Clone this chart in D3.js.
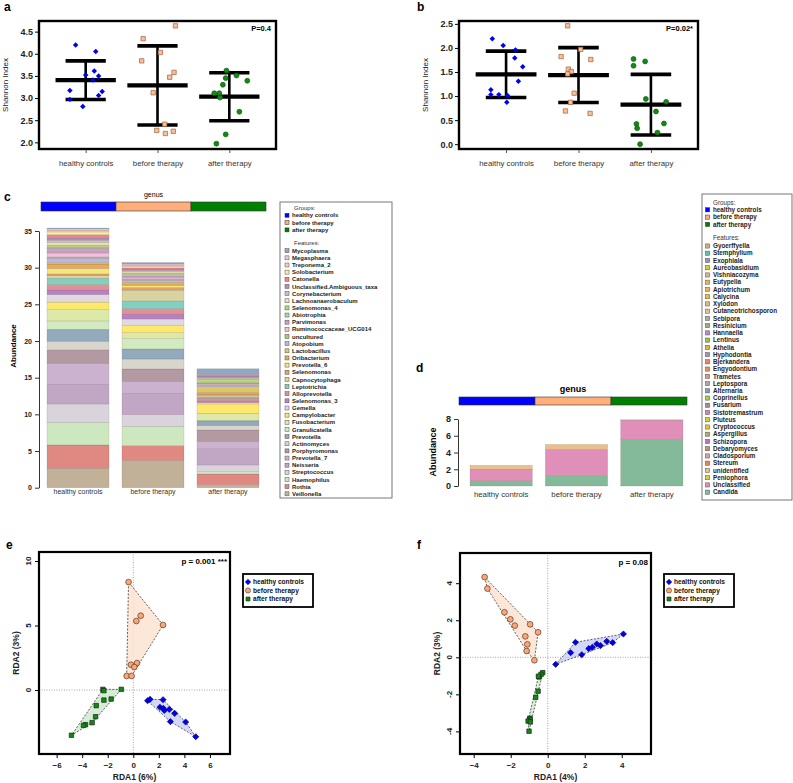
<!DOCTYPE html>
<html>
<head>
<meta charset="utf-8">
<script src="https://cdn.jsdelivr.net/npm/d3@7"></script>
<style>
  body { margin: 0; background: #fff; }
  text { font-family: "Liberation Sans", Arial, sans-serif; }
</style>
</head>
<body>
<svg id="fig" width="793" height="783"></svg>
<script>
// ---------- data ----------
const groups = ['healthy controls', 'before therapy', 'after therapy'];
const groupColors = ['#0000ff', '#ffae7c', '#008000'];

// a: bacterial Shannon index
const shanBacHealthy = [4.20, 4.05, 3.52, 3.61, 3.50, 3.41, 3.17, 3.15, 3.06, 2.97, 2.81];
const shanBacBefore = [4.63, 4.34, 4.03, 3.84, 3.58, 3.47, 3.12, 2.41, 2.27, 2.20, 2.25];
const shanBacAfter = [3.62, 3.51, 3.45, 3.39, 3.30, 3.11, 3.11, 3.01, 2.69, 2.18, 1.97];
const jitBacHealthy = [-0.14, 0.14, 0, 0.12, 0.18, 0.10, -0.22, 0.23, 0.18, -0.22, -0.04];
const jitBacBefore = [0.25, -0.2, 0.04, -0.22, 0.23, 0.17, -0.06, 0.10, -0.01, 0.11, 0.22];
const jitBacAfter = [-0.04, 0.10, -0.05, 0.25, -0.09, -0.21, -0.14, -0.13, 0.14, -0.05, -0.18];
const shanBacTicks = [2.0, 2.5, 3.0, 3.5, 4.0, 4.5];

// b: fungal Shannon index
const shanFunHealthy = [2.19, 2.05, 1.96, 1.79, 1.61, 1.31, 1.13, 1.03, 1.03, 1.01, 0.87];
const shanFunBefore = [2.46, 1.82, 1.97, 1.76, 1.56, 1.51, 1.46, 1.06, 0.87, 0.69, 0.64];
const shanFunAfter = [1.77, 1.63, 1.72, 0.94, 0.88, 0.68, 0.42, 0.33, 0.43, 0.24, 0.0];
const jitFunHealthy = [-0.19, -0.04, 0.13, 0.12, 0.23, 0.17, -0.21, -0.21, -0.10, 0.02, 0.01];
const jitFunBefore = [-0.15, -0.24, 0.03, 0.17, -0.14, -0.10, -0.15, -0.06, -0.11, -0.18, 0.16];
const jitFunAfter = [-0.24, -0.24, -0.08, -0.07, 0.21, 0.07, -0.20, -0.19, 0.18, 0.09, -0.15];
const shanFunTicks = [0.0, 0.5, 1.0, 1.5, 2.0, 2.5];

// c: bacterial genus abundance (legend order, top of stack first)
const bacFeatures = ['Mycoplasma', 'Megasphaera', 'Treponema_2', 'Solobacterium', 'Catonella',
  'Unclassified.Ambiguous_taxa', 'Corynebacterium', 'Lachnoanaerobaculum', 'Selenomonas_4', 'Abiotrophia',
  'Parvimonas', 'Ruminococcaceae_UCG014', 'uncultured', 'Atopobium', 'Lactobacillus', 'Oribacterium',
  'Prevotella_6', 'Selenomonas', 'Capnocytophaga', 'Leptotrichia', 'Alloprevotella', 'Selenomonas_3',
  'Gemella', 'Campylobacter', 'Fusobacterium', 'Granulicatella', 'Prevotella', 'Actinomyces',
  'Porphyromonas', 'Prevotella_7', 'Neisseria', 'Streptococcus', 'Haemophilus', 'Rothia', 'Veillonella'];
const bacColors = ['#8ea8c6', '#e9c9da', '#f2cbc2', '#f6eea2', '#ef8480', '#b08fc2', '#c9c2ba', '#e9e1bb',
  '#b9d872', '#a9d8ab', '#c9a1c3', '#f1c2d9', '#a9c972', '#b9b9da', '#d9c865', '#e8aa55', '#f1e77f',
  '#e2a262', '#d8d4a2', '#82d0c2', '#e19193', '#b881c1', '#e1d9e1', '#fde86e', '#dde9a9', '#d1eac1',
  '#92aabb', '#d8d5cd', '#b299a2', '#cbb3cf', '#c1a6c6', '#d9d4dc', '#cde8c1', '#e08882', '#c1b199'];
const bacHealthy = [0.1, 0.2, 0.22, 0.38, 0.44, 0.31, 0.35, 0.33, 0.27, 0.14, 0.66, 0.53, 0.17, 0.6, 0.2,
  0.62, 0.73, 0.25, 0.34, 0.86, 0.73, 0.64, 1.03, 1.0, 1.56, 1.14, 1.63, 1.18, 1.82, 2.87, 2.68, 2.5,
  3.09, 3.18, 2.65];
const bacBefore = [0.2, 0.17, 0.18, 0.18, 0.17, 0.2, 0.17, 0.18, 0.19, 0.18, 0.23, 0.18, 0.17, 0.3, 0.2,
  0.24, 0.26, 0.37, 1.46, 1.05, 0.76, 0.66, 0.9, 0.95, 0.82, 1.41, 1.37, 1.36, 1.73, 1.59, 2.91, 1.59,
  2.64, 2.0, 3.73];
const bacAfter = [0.73, 0.05, 0.05, 0.05, 0.1, 0.23, 0.1, 0.1, 0.45, 0.1, 0.1, 0.1, 0.17, 0.1, 0.8,
  0.1, 0.1, 0.18, 0.23, 0.17, 0.33, 0.27, 0.18, 1.27, 0.95, 0.1, 0.64, 0.59, 1.59, 0.96, 2.22, 0.92,
  0.31, 1.46, 0.41];
const bacTicks = [0, 5, 10, 15, 20, 25, 30, 35];

// d: fungal genus abundance
const funFeatures = ['Gyoerffyella', 'Stemphylium', 'Exophiala', 'Aureobasidium', 'Vishniacozyma', 'Eutypella',
  'Apiotrichum', 'Calycina', 'Xylodon', 'Cutaneotrichosporon', 'Sebipora', 'Resinicium', 'Hannaella',
  'Lentinus', 'Athelia', 'Hyphodontia', 'Bjerkandera', 'Engyodontium', 'Trametes', 'Leptospora',
  'Alternaria', 'Coprinellus', 'Fusarium', 'Sistotremastrum', 'Pluteus', 'Cryptococcus', 'Aspergillus',
  'Schizopora', 'Debaryomyces', 'Cladosporium', 'Stereum', 'unidentified', 'Peniophora', 'Unclassified',
  'Candida'];
const funColors = ['#c9b089', '#5fc2a8', '#9391c9', '#d9c933', '#c9b999', '#e1b951', '#e9b263', '#e9c322',
  '#d9b98a', '#e1c292', '#a9a9a9', '#a1a982', '#b98ac9', '#99c243', '#e1b243', '#9999b9', '#f08262',
  '#e19263', '#d19a8a', '#b1a9a1', '#8199c9', '#a9c952', '#a18a92', '#d182c1', '#c9d143', '#e9c233',
  '#a9b163', '#c172c1', '#b99272', '#d1a2a2', '#e18262', '#e8c08c', '#d1d143', '#e08fb8', '#84b999'];
const funHealthy = [0, 0, 0, 0, 0, 0, 0, 0, 0, 0, 0, 0, 0, 0, 0, 0, 0, 0, 0, 0, 0, 0, 0, 0, 0, 0, 0, 0, 0,
  0, 0, 0.46, 0, 1.37, 0.63];
const funBefore = [0, 0, 0, 0, 0, 0, 0, 0, 0, 0, 0, 0, 0, 0, 0, 0, 0, 0, 0, 0, 0, 0, 0, 0, 0, 0, 0, 0, 0,
  0, 0, 0.59, 0, 3.14, 1.23];
const funAfter = [0, 0, 0, 0, 0, 0, 0, 0, 0, 0, 0, 0, 0, 0, 0, 0, 0, 0, 0, 0, 0, 0, 0, 0, 0, 0, 0, 0, 0,
  0, 0, 0.05, 0, 2.30, 5.56];
const funTicks = [0, 2, 4, 6, 8];

// e: RDA bacteria
const rdaBacHealthy = [[1.12, -0.83], [1.31, -0.72], [2.33, -0.75], [2.09, -1.34], [2.35, -1.42], [2.43, -1.58],
  [2.82, -1.50], [3.24, -1.81], [2.90, -2.45], [4.10, -2.48], [4.89, -3.62]];
const rdaBacBefore = [[-0.37, 8.37], [0.58, 5.76], [0.24, 5.35], [2.33, 5.04], [0.29, 2.09], [-0.18, 1.96],
  [0.08, 1.78], [-0.52, 1.09], [-0.13, 1.09]];
const rdaBacAfter = [[-2.38, 0.05], [-2.30, -0.05], [-0.94, 0.05], [-2.30, -0.78], [-1.73, -0.70], [-2.90, -1.21],
  [-2.95, -2.07], [-3.22, -2.53], [-3.74, -2.69], [-3.90, -2.74], [-4.84, -3.51]];

// f: RDA fungi
const rdaFunHealthy = [[0.43, -0.38], [1.24, 0.25], [1.50, 0.81], [1.84, 0.14], [2.22, 0.47], [2.41, 0.54],
  [2.65, 0.72], [2.85, 0.63], [3.19, 0.86], [3.51, 0.79], [4.09, 1.26]];
const rdaFunBefore = [[-3.41, 4.33], [-3.26, 3.71], [-2.34, 2.43], [-2.02, 2.05], [-1.78, 1.71], [-0.95, 1.78],
  [-0.52, 1.35], [-1.21, 1.13], [-1.10, 0.70], [-1.14, 0.34], [-0.72, -0.16]];
const rdaFunAfter = [[-0.27, -0.83], [-0.36, -0.92], [-0.47, -1.06], [-0.50, -1.02], [-0.52, -1.83], [-0.65, -2.16],
  [-0.97, -3.29], [-0.95, -3.35], [-1.06, -3.44], [-0.94, -3.49], [-1.01, -3.99]];

// ---------- drawing ----------
const svg = d3.select('#fig');
const diamond = d3.symbolDiamond2 || d3.symbolDiamond;
// Shannon plots: diamond / square / circle; RDA plots: diamond / circle / square
const dotShapes = [diamond, d3.symbolSquare, d3.symbolCircle];
const rdaShapes = [diamond, d3.symbolCircle, d3.symbolSquare];

function panelLabel(t, x, y) {
  svg.append('text').attr('x', x).attr('y', y).text(t)
    .style('font-size', '12px').style('font-weight', 'bold');
}

function shannonPanel(o) {
  const g = svg.append('g');
  const x = d3.scalePoint().domain(groups).range([o.left, o.right]).padding(0.65);
  const y = d3.scaleLinear().domain(o.yDomain).range([o.bottom, o.top]);
  const step = x.step();
  const fills = ['#0000f0', '#f9bf9c', '#138a13'];
  const strokes = ['none', '#a0603a', '#0a5a0a'];
  const sizes = [19, 19, 19];

  o.series.forEach((vals, i) => {
    const cx = x(groups[i]);
    const m = d3.mean(vals), sd = d3.deviation(vals);
    g.append('line').attr('x1', cx).attr('x2', cx).attr('y1', y(m - sd)).attr('y2', y(m + sd))
      .attr('stroke', '#000').attr('stroke-width', 2.6);
    [m - sd, m + sd].forEach(v => {
      g.append('line').attr('x1', cx - 0.28 * step).attr('x2', cx + 0.28 * step)
        .attr('y1', y(v)).attr('y2', y(v)).attr('stroke', '#000').attr('stroke-width', 3.6);
    });
    g.append('line').attr('x1', cx - 0.42 * step).attr('x2', cx + 0.42 * step)
      .attr('y1', y(m)).attr('y2', y(m)).attr('stroke', '#000').attr('stroke-width', 4.2);

    g.selectAll('.pt' + i).data(vals).enter().append('path')
      .attr('d', d3.symbol().type(dotShapes[i]).size(sizes[i]))
      .attr('transform', (d, j) => `translate(${cx + o.jitter[i][j] * step},${y(d)})`)
      .attr('fill', fills[i]).attr('stroke', strokes[i]).attr('stroke-width', 0.7);
  });

  g.append('rect').attr('x', o.left).attr('y', o.top)
    .attr('width', o.right - o.left).attr('height', o.bottom - o.top)
    .attr('fill', 'none').attr('stroke', '#000').attr('stroke-width', 2.4);

  const ya = g.append('g').attr('transform', `translate(${o.left - 1},0)`)
    .call(d3.axisLeft(y).tickValues(o.ticks).tickFormat(d3.format('.1f')).tickSize(3).tickPadding(2));
  ya.select('.domain').remove();
  ya.selectAll('text').style('font-size', '9px').style('font-weight', 'bold').attr('fill', '#222');

  const xa = g.append('g').attr('transform', `translate(0,${o.bottom + 1})`)
    .call(d3.axisBottom(x).tickSize(3).tickPadding(7));
  xa.select('.domain').remove();
  xa.selectAll('line').attr('stroke', '#555');
  xa.selectAll('text').style('font-size', '7.8px').attr('fill', '#333');

  g.append('text').attr('transform', `translate(${o.titleX},${(o.top + o.bottom) / 2}) rotate(-90)`)
    .attr('text-anchor', 'middle').style('font-size', '8px').attr('fill', '#222').text('Shannon Index');
  g.append('text').attr('x', o.right - 5).attr('y', o.top + 10).attr('text-anchor', 'end')
    .style('font-size', '7.5px').style('font-weight', 'bold').text(o.pText);
}

function stackPanel(o) {
  const g = svg.append('g');
  const keys = o.features.slice().reverse();
  const rows = groups.map((grp, i) => {
    const r = { group: grp };
    o.features.forEach((f, k) => { r[f] = o.values[i][k]; });
    return r;
  });
  const color = d3.scaleOrdinal().domain(o.features).range(o.colors);
  const stacked = d3.stack().keys(keys)(rows);

  const xBar = d3.scaleBand().domain(groups).range(o.barRange).paddingInner(0.173).paddingOuter(0.087);
  const xTop = d3.scaleBand().domain(groups).range(o.headRange);
  const y = d3.scaleLinear().domain(o.yDomain).range([o.bottom, o.top]);

  // group colour strip and title
  g.selectAll('.head').data(groups).enter().append('rect')
    .attr('x', d => xTop(d)).attr('y', o.headY).attr('width', xTop.bandwidth()).attr('height', o.headH)
    .attr('fill', (d, i) => groupColors[i]).attr('stroke', '#333').attr('stroke-width', 0.6);
  g.append('text').attr('x', (o.headRange[0] + o.headRange[1]) / 2).attr('y', o.headY - 5)
    .attr('text-anchor', 'middle').style('font-size', o.genusSize).style('font-weight', o.genusWeight)
    .text('genus');

  g.selectAll('.layer').data(stacked).enter().append('g')
    .attr('fill', d => color(d.key))
    .selectAll('rect').data(d => d).enter().append('rect')
    .filter(d => d[1] - d[0] > 0)
    .attr('x', d => xBar(d.data.group)).attr('width', xBar.bandwidth())
    .attr('y', d => y(d[1])).attr('height', d => y(d[0]) - y(d[1]))
    .attr('stroke', 'rgba(80,60,60,0.25)').attr('stroke-width', 0.5);

  const ya = g.append('g').attr('transform', `translate(${o.axisX},0)`)
    .call(d3.axisLeft(y).tickValues(o.ticks).tickSize(4).tickSizeOuter(0).tickPadding(3));
  ya.select('.domain').attr('stroke', '#333');
  ya.selectAll('line').attr('stroke', '#333');
  ya.selectAll('text').style('font-size', o.tickSize).style('font-weight', 'bold').attr('fill', '#222');

  g.selectAll('.xl').data(groups).enter().append('text')
    .attr('x', d => xBar(d) + xBar.bandwidth() / 2).attr('y', o.labelY)
    .attr('text-anchor', 'middle').style('font-size', o.labelSize).attr('fill', '#333').text(d => d);

  g.append('text').attr('transform', `translate(${o.titleX},${o.titleY}) rotate(-90)`)
    .attr('text-anchor', 'middle').style('font-size', o.titleSize).style('font-weight', 'bold')
    .text('Abundance');

  // legend
  const L = o.legend;
  const lg = g.append('g');
  lg.append('rect').attr('x', L.x).attr('y', L.y).attr('width', L.w).attr('height', L.h)
    .attr('fill', '#fff').attr('stroke', '#555').attr('stroke-width', 0.8);
  const fs = L.font;
  lg.append('text').attr('x', L.titleX).attr('y', L.groupsY + fs * 0.35).style('font-size', fs + 'px')
    .attr('fill', '#333').text('Groups:');
  groups.forEach((grp, i) => {
    const cy = L.groupsY + L.step * (i + 1);
    lg.append('rect').attr('x', L.swX).attr('y', cy - L.sw / 2).attr('width', L.sw).attr('height', L.sw)
      .attr('fill', groupColors[i]).attr('stroke', '#333').attr('stroke-width', 0.5);
    lg.append('text').attr('x', L.textX).attr('y', cy + fs * 0.35).style('font-size', fs + 'px')
      .style('font-weight', 'bold').attr('fill', '#222').text(grp);
  });
  lg.append('text').attr('x', L.titleX).attr('y', L.featY + fs * 0.35).style('font-size', fs + 'px')
    .attr('fill', '#333').text('Features:');
  o.features.forEach((f, k) => {
    const cy = L.featStart + L.fstep * k;
    lg.append('rect').attr('x', L.swX).attr('y', cy - L.sw / 2).attr('width', L.sw).attr('height', L.sw)
      .attr('fill', color(f)).attr('stroke', '#555').attr('stroke-width', 0.5);
    lg.append('text').attr('x', L.textX).attr('y', cy + fs * 0.35).style('font-size', fs + 'px')
      .style('font-weight', 'bold').attr('fill', '#222').text(f);
  });
}

function rdaPanel(o) {
  const g = svg.append('g');
  const x = d3.scaleLinear().domain(o.xDomain).range([o.left, o.right]);
  const y = d3.scaleLinear().domain(o.yDomain).range([o.bottom, o.top]);
  const hullFill = ['#ccd0f6', '#fde3d1', '#cfe9cf'];
  const fills = ['#0000ee', '#f8a877', '#128a12'];
  const strokes = ['#00007a', '#5a3a2a', '#1a2a1a'];
  const sizes = [24, 26, 20];

  g.append('line').attr('x1', x(0)).attr('x2', x(0)).attr('y1', o.top).attr('y2', o.bottom)
    .attr('stroke', '#666').attr('stroke-width', 0.6).attr('stroke-dasharray', '1,1.5');
  g.append('line').attr('x1', o.left).attr('x2', o.right).attr('y1', y(0)).attr('y2', y(0))
    .attr('stroke', '#666').attr('stroke-width', 0.6).attr('stroke-dasharray', '1,1.5');

  o.series.forEach((pts, i) => {
    const hull = d3.polygonHull(pts.map(p => [x(p[0]), y(p[1])]));
    g.append('path').attr('d', 'M' + hull.join('L') + 'Z')
      .attr('fill', hullFill[i]).attr('fill-opacity', 0.85)
      .attr('stroke', '#222').attr('stroke-width', 0.7).attr('stroke-dasharray', '2,1.5');
  });
  o.series.forEach((pts, i) => {
    g.selectAll('.p' + i).data(pts).enter().append('path')
      .attr('d', d3.symbol().type(rdaShapes[i]).size(sizes[i]))
      .attr('transform', d => `translate(${x(d[0])},${y(d[1])})`)
      .attr('fill', fills[i]).attr('stroke', strokes[i]).attr('stroke-width', 0.7);
  });

  g.append('rect').attr('x', o.left).attr('y', o.top)
    .attr('width', o.right - o.left).attr('height', o.bottom - o.top)
    .attr('fill', 'none').attr('stroke', '#000').attr('stroke-width', 2.2);

  const xa = g.append('g').attr('transform', `translate(0,${o.bottom + 1})`)
    .call(d3.axisBottom(x).tickValues(o.xTicks).tickSize(3).tickPadding(4));
  xa.select('.domain').remove();
  xa.selectAll('text').style('font-size', '8px').style('font-weight', 'bold').attr('fill', '#222');

  const ya = g.append('g').attr('transform', `translate(${o.left - 1},0)`)
    .call(d3.axisLeft(y).tickValues(o.yTicks).tickSize(3).tickFormat(''));
  ya.select('.domain').remove();
  g.selectAll('.yl').data(o.yTicks).enter().append('text')
    .attr('transform', d => `translate(${o.left - 8},${y(d)}) rotate(-90)`)
    .attr('text-anchor', 'middle').style('font-size', '8px').style('font-weight', 'bold')
    .attr('fill', '#222').text(d => d);

  g.append('text').attr('x', (o.left + o.right) / 2).attr('y', o.bottom + 26).attr('text-anchor', 'middle')
    .style('font-size', '8.5px').style('font-weight', 'bold').attr('fill', '#222').text(o.xTitle);
  g.append('text').attr('transform', `translate(${o.left - 20},${(o.top + o.bottom) / 2}) rotate(-90)`)
    .attr('text-anchor', 'middle').style('font-size', '8.5px').style('font-weight', 'bold')
    .attr('fill', '#222').text(o.yTitle);
  g.append('text').attr('x', o.right - 3).attr('y', o.top + 12).attr('text-anchor', 'end')
    .style('font-size', '8px').style('font-weight', 'bold').text(o.pText);

  // legend
  const lg = g.append('g');
  lg.append('rect').attr('x', o.legX).attr('y', o.legY).attr('width', 70).attr('height', 33)
    .attr('fill', '#fff').attr('stroke', '#000').attr('stroke-width', 1.8);
  groups.forEach((grp, i) => {
    const cy = o.legY + 8 + i * 8.5;
    lg.append('path').attr('d', d3.symbol().type(rdaShapes[i]).size(sizes[i] * 0.8))
      .attr('transform', `translate(${o.legX + 5},${cy})`)
      .attr('fill', fills[i]).attr('stroke', strokes[i]).attr('stroke-width', 0.6);
    lg.append('text').attr('x', o.legX + 10).attr('y', cy + 2.3)
      .style('font-size', '6.6px').style('font-weight', 'bold').attr('fill', '#111').text(grp);
  });
}

// ---------- panels ----------
panelLabel('a', 4, 11);
shannonPanel({
  left: 39, right: 276, top: 21, bottom: 149, yDomain: [1.85, 4.74], ticks: shanBacTicks,
  series: [shanBacHealthy, shanBacBefore, shanBacAfter],
  jitter: [jitBacHealthy, jitBacBefore, jitBacAfter], titleX: 8, pText: 'P=0.4'
});

panelLabel('b', 417, 11);
shannonPanel({
  left: 459, right: 698, top: 21, bottom: 149, yDomain: [-0.1, 2.56], ticks: shanFunTicks,
  series: [shanFunHealthy, shanFunBefore, shanFunAfter],
  jitter: [jitFunHealthy, jitFunBefore, jitFunAfter], titleX: 428, pText: 'P=0.02*'
});

panelLabel('c', 4, 201);
stackPanel({
  features: bacFeatures, colors: bacColors, values: [bacHealthy, bacBefore, bacAfter],
  barRange: [40.5, 265.5], headRange: [41, 266], headY: 202, headH: 9,
  genusSize: '7px', genusWeight: 'normal',
  yDomain: [0, 35], top: 231, bottom: 487.7, axisX: 39, ticks: bacTicks, tickSize: '7px',
  labelY: 494, labelSize: '7px', titleX: 16, titleY: 346, titleSize: '8px',
  legend: {
    x: 280, y: 202, w: 112, h: 296, font: 6, titleX: 294, swX: 285, sw: 4, textX: 292,
    groupsY: 208, step: 7.3, featY: 243, featStart: 250.7, fstep: 7.15
  }
});

panelLabel('d', 416, 372);
stackPanel({
  features: funFeatures, colors: funColors, values: [funHealthy, funBefore, funAfter],
  barRange: [463.5, 689.5], headRange: [459, 687], headY: 397, headH: 8,
  genusSize: '9px', genusWeight: 'bold',
  yDomain: [0, 8], top: 419, bottom: 486, axisX: 458, ticks: funTicks, tickSize: '9px',
  labelY: 497, labelSize: '7.8px', titleX: 436, titleY: 452, titleSize: '9px',
  legend: {
    x: 702, y: 194, w: 90, h: 306, font: 6.3, titleX: 713, swX: 705.5, sw: 4.2, textX: 713,
    groupsY: 202.5, step: 7.3, featY: 238, featStart: 246, fstep: 7.24
  }
});

panelLabel('e', 6, 549);
rdaPanel({
  left: 39, right: 230, top: 552, bottom: 754, xDomain: [-7.38, 7.57], yDomain: [-4.96, 10.7],
  xTicks: [-6, -4, -2, 0, 2, 4, 6], yTicks: [0, 5, 10],
  series: [rdaBacHealthy, rdaBacBefore, rdaBacAfter],
  xTitle: 'RDA1 (6%)', yTitle: 'RDA2 (3%)', pText: 'p = 0.001 ***', legX: 243, legY: 574
});

panelLabel('f', 417, 549);
rdaPanel({
  left: 460, right: 651, top: 553, bottom: 754, xDomain: [-4.74, 5.58], yDomain: [-5.22, 5.63],
  xTicks: [-4, -2, 0, 2, 4], yTicks: [-4, -2, 0, 2, 4],
  series: [rdaFunHealthy, rdaFunBefore, rdaFunAfter],
  xTitle: 'RDA1 (4%)', yTitle: 'RDA2 (3%)', pText: 'p = 0.08', legX: 664, legY: 574
});
</script>
</body>
</html>
